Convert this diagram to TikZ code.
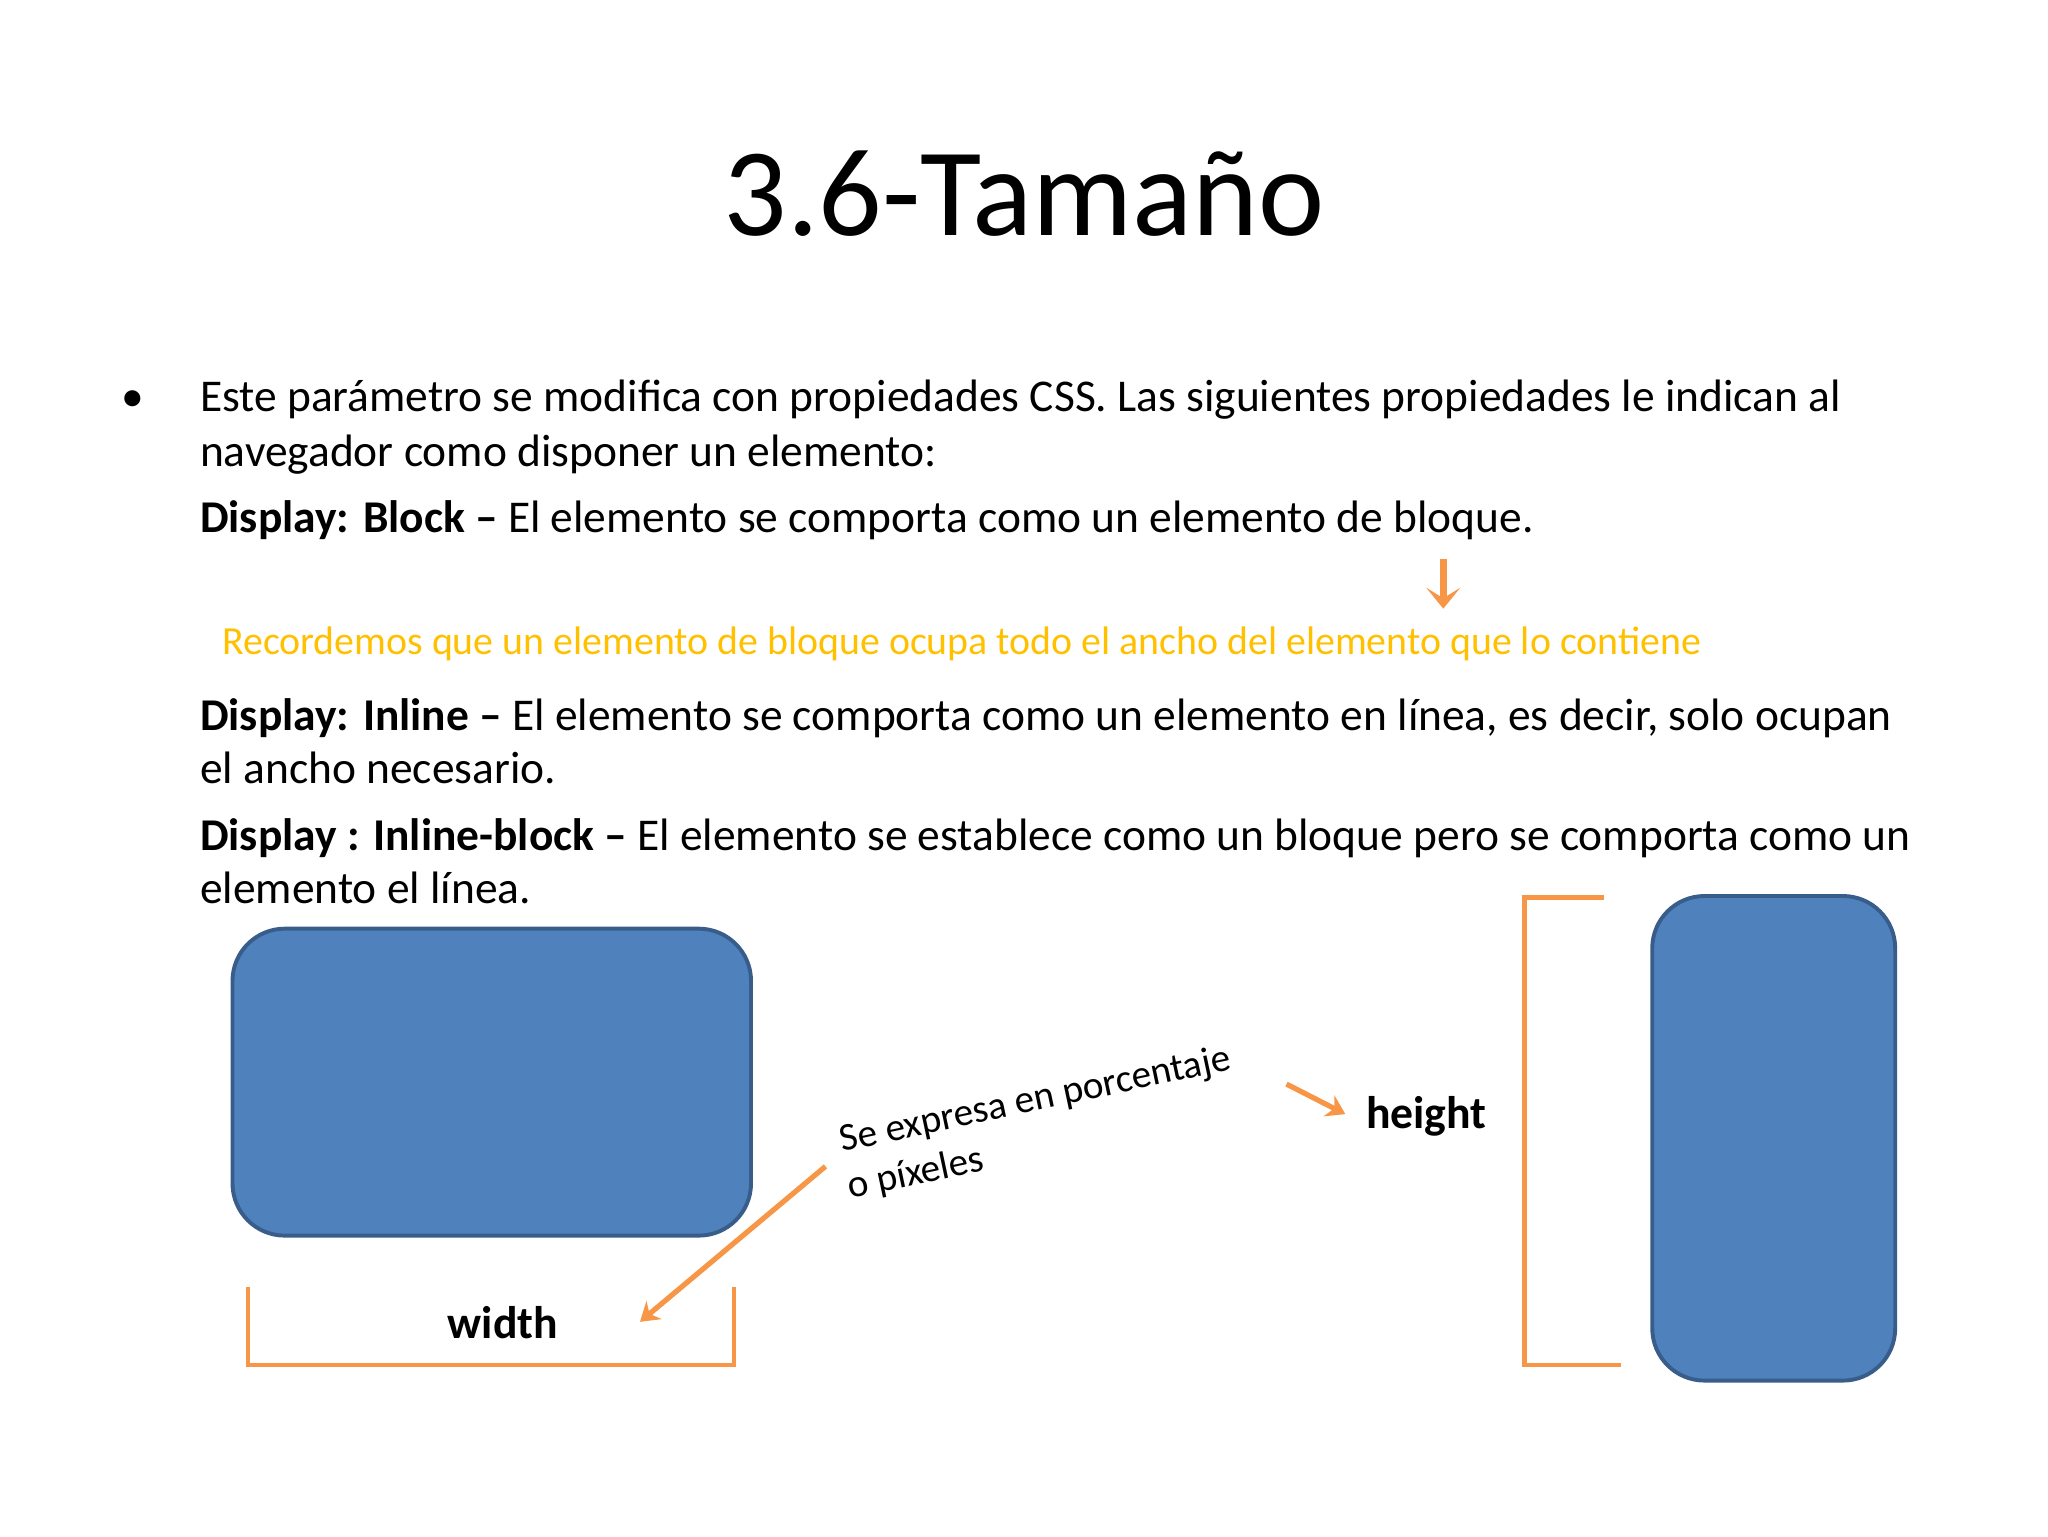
\documentclass[tikz,border=0pt]{standalone}
\usepackage{fontspec}
\setmainfont{Carlito}
\usetikzlibrary{arrows.meta}
\definecolor{boxblue}{HTML}{4F81BD}
\definecolor{boxline}{HTML}{385D8A}
\definecolor{orng}{HTML}{F79646}
\definecolor{ylw}{HTML}{FFC000}
\tikzset{
 body/.style={anchor=base west,inner sep=0pt,font=\fontsize{34.8}{40}\selectfont},
 blk/.style={fill=boxblue,draw=boxline,line width=3pt,rounded corners=40pt},
 brk/.style={draw=orng,line width=3.5pt},
 arr/.style={draw=orng,line width=4pt,-{Stealth[length=14pt,width=18pt]}},
 rot/.style={anchor=base west,inner sep=0pt,rotate=12,font=\fontsize{30}{34}\selectfont}
}
\begin{document}
\begin{tikzpicture}[x=1pt,y=-1pt]
\useasboundingbox (0,0) rectangle (1568,1176);
\node[font=\fontsize{96}{110}\selectfont,inner sep=0pt] (title) at (784,148) {3.6-Tamaño};
\node[body] (bul) at (93,315) {•};
\node[body] (l1) at (153,315) {Este parámetro se modifica con propiedades CSS. Las siguientes propiedades le indican al};
\node[body] (l2) at (153,357) {navegador como disponer un elemento:};
\node[body] (l3) at (153,408) {\textbf{Display: Block –} El elemento se comporta como un elemento de bloque.};
\node[body,font=\fontsize{30.5}{34}\selectfont,text=ylw] (rec) at (170,501) {Recordemos que un elemento de bloque ocupa todo el ancho del elemento que lo contiene};
\node[body] (l4) at (153,559) {\textbf{Display: Inline –} El elemento se comporta como un elemento en línea, es decir, solo ocupan};
\node[body] (l5) at (153,600) {el ancho necesario.};
\node[body] (l6) at (153,651) {\textbf{Display : Inline-block –} El elemento se establece como un bloque pero se comporta como un};
\node[body] (l7) at (153,692) {elemento el línea.};
\coordinate (da) at (1105,428);
\coordinate (db) at (1105,466);
\draw[arr,line width=5pt,-{Stealth[length=16pt,width=26pt,inset=8pt]}] (da) -- (db);
\path[blk] (178,711) rectangle (575,946);
\path[blk] (1265,686) rectangle (1451,1057);
\draw[brk] (190,985) -- (190,1045) -- (562,1045) -- (562,985);
\draw[brk] (1228,687) -- (1167,687) -- (1167,1045) -- (1241,1045);
\node[inner sep=0pt,font=\fontsize{35}{40}\selectfont\bfseries,anchor=base] (w) at (385,1025) {width};
\node[inner sep=0pt,font=\fontsize{35}{40}\selectfont\bfseries,anchor=base] (h) at (1092,864) {height};
\node[rot] (se1) at (645,882) {Se expresa en porcentaje};
\node[rot] (se2) at (651,918) {o píxeles};
\coordinate (a1) at (632,893);
\coordinate (a2) at (490,1012);
\draw[arr] (a1) -- (a2);
\coordinate (b1) at (985,830);
\coordinate (b2) at (1030,853);
\draw[arr] (b1) -- (b2);
\end{tikzpicture}
\end{document}
